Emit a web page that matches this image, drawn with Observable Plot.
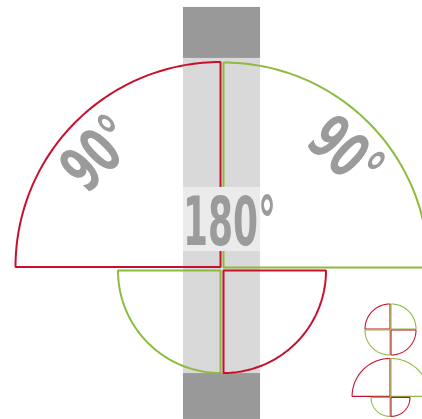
<!DOCTYPE html>
<html><head><meta charset="utf-8">
<script src="https://cdn.jsdelivr.net/npm/d3@7"></script>
<script src="https://cdn.jsdelivr.net/npm/@observablehq/plot@0.6"></script>
<style>html,body{margin:0;padding:0;background:#fff;overflow:hidden}</style>
</head><body><div id="chart"></div>
<script>
// ---- data (unit: radius of the large quarter circle = 1) ----
const quadrants = ["upper-left", "upper-right", "lower-left", "lower-right"];
const quadrantStartDeg = [90, 0, 180, 270];
const quadrantSeries = ["A", "B", "B", "A"];

const diagrams = ["main", "icon-equal", "icon-small"];
const diagramCx = [0, 0.822, 0.822];
const diagramCy = [0, -0.295, -0.624];
const diagramScale = [1, 0.122, 0.185];
const diagramRadii = [[1, 1, 0.5, 0.5], [1, 1, 1, 1], [1, 1, 0.5, 0.5]];

const bandNames = ["top", "middle", "bottom"];
const bandX1 = [-0.188, -0.188, -0.188];
const bandX2 = [0.188, 0.188, 0.188];
const bandY1 = [1.027, -0.51, -0.734];
const bandY2 = [1.276, 1.027, -0.51];
const bandTone = ["dark", "light", "dark"];

const labelTexts = ["90°", "90°", "180°"];
const labelX = [-0.60, 0.60, 0.037];
const labelY = [0.56, 0.56, 0.224];
const labelRotate = [-45, 43, 0];
const labelSize = [63, 63, 67];
const labelLength = [74, 74, 93];

const boxX = [-0.188, 0.188];
const boxY = [0.085, 0.398];

// ---- build tables ----
const seriesColors = {A: "#c8102e", B: "#8dbb3f"};
const toneColors = {dark: "#999999", light: "#d9d9d9"};
const mainOffsets = [[-1.5, -2], [1.5, -1.5], [-1.5, 1.5], [1.5, 1.5]];
const iconOffsets = [[-0.5, -0.5], [0.5, -0.5], [-0.5, 0.5], [0.5, 0.5]];

function quarterPoints(di, qi) {
  const cx = diagramCx[di], cy = diagramCy[di];
  const r = diagramScale[di] * diagramRadii[di][qi];
  const a0 = quadrantStartDeg[qi];
  const pts = [{x: cx, y: cy}];
  const n = 72;
  for (let i = 0; i <= n; i++) {
    const a = (a0 + 90 * i / n) * Math.PI / 180;
    pts.push({x: cx + r * Math.cos(a), y: cy + r * Math.sin(a)});
  }
  return pts;
}

const bands = bandNames.map((n, i) => ({name: n, x1: bandX1[i], x2: bandX2[i], y1: bandY1[i], y2: bandY2[i], tone: bandTone[i]}));
const labels = labelTexts.map((t, i) => ({text: t, x: labelX[i], y: labelY[i], rotate: labelRotate[i], size: labelSize[i]}));

const W = 422, H = 419, U = 205, CX = 221.5, CY = 268.5;

const marks = [];
marks.push(Plot.rect(bands, {x1: "x1", x2: "x2", y1: "y1", y2: "y2", fill: d => toneColors[d.tone]}));
diagrams.forEach((dname, di) => {
  quadrants.forEach((q, qi) => {
    const off = di === 0 ? mainOffsets[qi] : iconOffsets[qi];
    marks.push(Plot.line(quarterPoints(di, qi), {
      x: "x", y: "y", stroke: seriesColors[quadrantSeries[qi]], curve: "linear-closed",
      strokeWidth: di === 0 ? 2 : 1.1, strokeLinejoin: "miter",
      dx: off[0], dy: off[1]
    }));
  });
});
marks.push(Plot.rect([{x1: boxX[0], x2: boxX[1], y1: boxY[0], y2: boxY[1]}], {x1: "x1", x2: "x2", y1: "y1", y2: "y2", fill: "#ebebeb"}));
labels.forEach((l) => {
  marks.push(Plot.text([l], {
    x: "x", y: "y", text: "text", rotate: l.rotate, fontSize: l.size,
    fill: "#9b9b9b", fontWeight: "bold", textAnchor: "middle",
    fontFamily: "'Liberation Sans Narrow', 'DejaVu Sans Condensed', 'DejaVu Sans', sans-serif"
  }));
});

const chart = Plot.plot({
  width: W, height: H, margin: 0,
  x: {domain: [-CX / U, (W - CX) / U], range: [0, W], axis: null},
  y: {domain: [-(H - CY) / U, CY / U], range: [H, 0], axis: null},
  style: {background: "#fff", overflow: "hidden"},
  marks
});
d3.select(chart).selectAll("text").each(function(_, i) {
  d3.select(this).attr("textLength", labelLength[i]).attr("lengthAdjust", "spacingAndGlyphs");
});
document.getElementById("chart").appendChild(chart);
</script>
</body></html>
